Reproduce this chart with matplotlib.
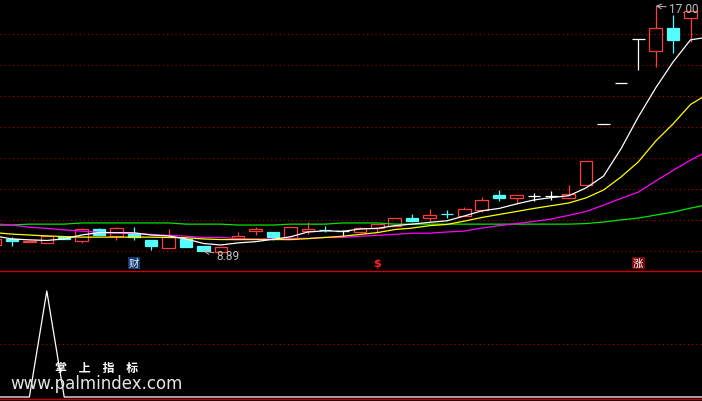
"""
K-line chart with moving averages and a signal sub-panel, drawn in the
black-background style of a Chinese trading terminal. Saves out.png.
"""

import matplotlib.pyplot as plt
from matplotlib.patches import Rectangle

plt.rcParams['font.family'] = ['Noto Sans CJK SC', 'DejaVu Sans']

# ---------------------------------------------------------------------------
# Data (bar -1 is the candle cut off at the left edge)
# ---------------------------------------------------------------------------
bars = list(range(-1, 40))
opens = [9.09, 9.29, 9.19, 9.16, 9.36, 9.22, 9.62, 9.39, 9.49, 9.26,
         8.99, 9.29, 9.06, 8.87, 9.29, 9.55, 9.52, 9.29, 9.55, 9.60,
         9.55, 9.52, 9.65, 9.72, 9.98, 9.98, 10.13, 10.05, 10.25, 10.74,
         10.65, 10.71, 10.71, 10.65, 11.08, 13.09, 14.45, 15.91, 15.51, 16.27,
         16.60]
highs = [9.30, 9.36, 9.23, 9.42, 9.36, 9.65, 9.65, 9.68, 9.68, 9.26,
         9.62, 9.29, 9.06, 9.02, 9.52, 9.68, 9.52, 9.68, 9.85, 9.72,
         9.59, 9.68, 9.78, 9.98, 10.12, 10.28, 10.25, 10.35, 10.68, 10.91,
         10.74, 10.81, 10.88, 11.08, 11.87, 13.09, 14.45, 15.91, 17.00, 16.70,
         16.83]
lows = [9.06, 9.06, 9.18, 9.16, 9.29, 9.16, 9.42, 9.26, 9.26, 8.92,
        8.99, 9.02, 8.90, 8.87, 9.29, 9.42, 9.26, 9.29, 9.45, 9.52,
        9.39, 9.52, 9.52, 9.72, 9.85, 9.88, 9.98, 10.05, 10.18, 10.55,
        10.45, 10.55, 10.58, 10.65, 11.08, 13.09, 14.45, 14.88, 14.98, 15.44,
        15.81]
closes = [9.29, 9.22, 9.22, 9.39, 9.29, 9.62, 9.42, 9.65, 9.36, 9.06,
          9.36, 9.02, 8.90, 9.02, 9.39, 9.62, 9.36, 9.68, 9.62, 9.57,
          9.55, 9.65, 9.78, 9.98, 9.88, 10.08, 10.10, 10.28, 10.58, 10.65,
          10.74, 10.71, 10.71, 10.78, 11.87, 13.09, 14.45, 15.91, 16.27, 15.88,
          16.83]

ma_bars = list(range(-1, 41))
ma5 = [9.39, 9.29, 9.26, 9.24, 9.29, 9.42, 9.50, 9.50, 9.49, 9.42,
       9.39, 9.29, 9.14, 9.09, 9.16, 9.20, 9.28, 9.36, 9.52, 9.56,
       9.54, 9.62, 9.64, 9.73, 9.78, 9.84, 9.89, 10.05, 10.22, 10.30,
       10.45, 10.58, 10.66, 10.72, 10.98, 11.37, 12.27, 13.33, 14.29, 15.15,
       15.88, 15.97]
ma10 = [9.50, 9.45, 9.42, 9.39, 9.37, 9.35, 9.35, 9.35, 9.35, 9.35,
        9.34, 9.33, 9.29, 9.27, 9.27, 9.27, 9.27, 9.27, 9.30, 9.34,
        9.38, 9.44, 9.50, 9.60, 9.65, 9.73, 9.77, 9.88, 10.00, 10.10,
        10.20, 10.30, 10.39, 10.48, 10.65, 10.91, 11.34, 11.84, 12.53, 13.10,
        13.74, 14.09]
ma20 = [9.79, 9.75, 9.68, 9.64, 9.59, 9.55, 9.51, 9.48, 9.48, 9.44,
        9.41, 9.38, 9.34, 9.34, 9.30, 9.29, 9.29, 9.31, 9.31, 9.34,
        9.34, 9.38, 9.41, 9.44, 9.48, 9.48, 9.52, 9.55, 9.65, 9.73,
        9.80, 9.87, 9.95, 10.07, 10.20, 10.41, 10.63, 10.84, 11.21, 11.56,
        11.90, 12.20]
ma60 = [9.75, 9.75, 9.78, 9.78, 9.78, 9.82, 9.82, 9.82, 9.82, 9.82,
        9.82, 9.78, 9.78, 9.78, 9.75, 9.75, 9.75, 9.78, 9.78, 9.78,
        9.82, 9.82, 9.82, 9.78, 9.78, 9.78, 9.78, 9.78, 9.78, 9.78,
        9.78, 9.78, 9.78, 9.78, 9.80, 9.85, 9.92, 9.98, 10.08, 10.18,
        10.31, 10.43]

# sub-panel signal line
signal = [0, 0, 0, 1, 0, 0, 0, 0, 0, 0,
          0, 0, 0, 0, 0, 0, 0, 0, 0, 0,
          0, 0, 0, 0, 0, 0, 0, 0, 0, 0,
          0, 0, 0, 0, 0, 0, 0, 0, 0, 0,
          0, 0]

# marker labels under the candles
label_bars = [7, 21, 36]
label_text = ["财", "$", "涨"]

high_bar, high_val = 37, 17.00
low_bar, low_val = 11, 8.89

# ---------------------------------------------------------------------------
# Style
# ---------------------------------------------------------------------------
UP = "#ff3c3c"
DOWN = "#54fcfc"
GRID = "#c00000"
NUM_FONT = ["Roboto", "DejaVu Sans"]
BODY_W = 0.72
XLIM = (-0.69, 39.66)

fig = plt.figure(figsize=(7.02, 4.02), dpi=100, facecolor="black")
ax = fig.add_axes([0, 130 / 402, 1, 272 / 402])
axb = fig.add_axes([0, 2.5 / 402, 1, 127.5 / 402])

for a in (ax, axb):
    a.set_facecolor("black")
    a.set_xlim(*XLIM)
    a.set_xticks([])
    a.set_yticks([])
    for s in a.spines.values():
        s.set_visible(False)

# main panel
ax.set_ylim(8.229, 17.232)
for k in range(8):
    ax.axhline(8.891 + k * 1.026, color=GRID, lw=0.75, ls=(0, (1, 3)), zorder=0)

for i, o, h, l, c in zip(bars, opens, highs, lows, closes):
    top, bot = max(o, c), min(o, c)
    if c > o:
        ax.add_patch(Rectangle((i - BODY_W / 2, bot), BODY_W, top - bot,
                               fill=False, edgecolor=UP, lw=0.9, zorder=2))
        ax.vlines(i, top, h, color=UP, lw=0.9, zorder=2)
        ax.vlines(i, l, bot, color=UP, lw=0.9, zorder=2)
    elif c < o:
        ax.vlines(i, l, h, color=DOWN, lw=0.9, zorder=2)
        ax.add_patch(Rectangle((i - BODY_W / 2, bot), BODY_W, top - bot,
                               facecolor=DOWN, edgecolor=DOWN, lw=0.9, zorder=2))
    else:
        ax.hlines(c, i - BODY_W / 2, i + BODY_W / 2, color="white", lw=0.9, zorder=2)
        ax.vlines(i, l, h, color="white", lw=0.9, zorder=2)

ax.plot(ma_bars, ma60, color="#00e600", lw=0.9, zorder=3)
ax.plot(ma_bars, ma20, color="#ff00ff", lw=0.9, zorder=3)
ax.plot(ma_bars, ma10, color="#ffff00", lw=0.9, zorder=3)
ax.plot(ma_bars, ma5, color="white", lw=0.9, zorder=3)

# high / low markers
ax.annotate(f"{high_val:.2f}", xy=(high_bar, high_val), xytext=(9.5, -1.5),
            textcoords="offset points", ha="left", va="center",
            color="#c0c0c0", fontsize=8.5, family=NUM_FONT,
            arrowprops=dict(arrowstyle="->", color="#c0c0c0", lw=0.7,
                            shrinkA=0, shrinkB=0))
ax.annotate(f"{low_val:.2f}", xy=(low_bar, low_val), xytext=(9.5, -3),
            textcoords="offset points", ha="left", va="center",
            color="#c0c0c0", fontsize=8.5, family=NUM_FONT,
            arrowprops=dict(arrowstyle="->", color="#c0c0c0", lw=0.7,
                            shrinkA=0, shrinkB=0))

# marker labels
ax.text(label_bars[0], 8.49, label_text[0], ha="center", va="center",
        color="#e8f0ff", fontsize=7.5,
        bbox=dict(boxstyle="square,pad=0.1", facecolor="#123a6e", edgecolor="none"))
ax.text(label_bars[1], 8.49, label_text[1], ha="center", va="center",
        color="#ff2020", fontsize=8, fontweight="bold", family=["DejaVu Sans"])
ax.text(label_bars[2], 8.49, label_text[2], ha="center", va="center",
        color="white", fontsize=7.5,
        bbox=dict(boxstyle="square,pad=0.1", facecolor="#7a0a0a", edgecolor="none"))

# sub panel
axb.set_ylim(-0.01415, 1.1887)
axb.axhline(0.5, color=GRID, lw=0.75, ls=(0, (1, 3)), zorder=0)
axb.plot(ma_bars, signal, color="white", lw=0.9)
axb.spines["top"].set_visible(True)
axb.spines["top"].set_color("#c80000")
axb.spines["top"].set_linewidth(1.0)
axb.spines["bottom"].set_visible(True)
axb.spines["bottom"].set_color("#c80000")
axb.spines["bottom"].set_linewidth(1.0)

# watermark
fig.text(55 / 702, (402 - 368) / 402, "掌　上　指　标", color="white",
         fontsize=8.6, fontweight="bold", ha="left", va="center")
fig.text(10 / 702, (402 - 384) / 402, "www.palmindex.com", color="#e6e6e6",
         fontsize=12, ha="left", va="center", family=["DejaVu Sans"])

fig.savefig("out.png", dpi=100, facecolor="black")
plt.close(fig)
